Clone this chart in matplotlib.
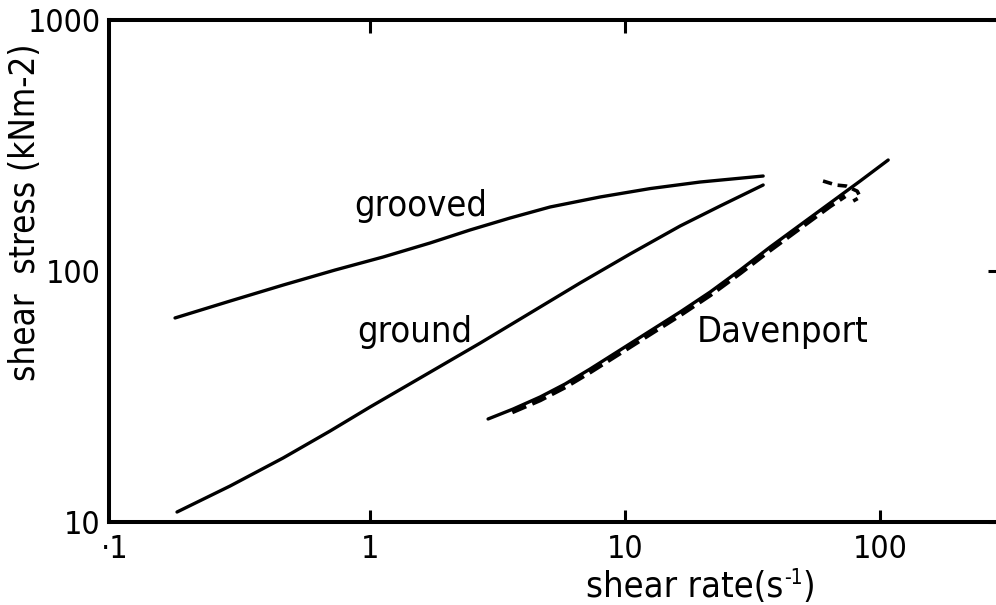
import matplotlib
matplotlib.use("Agg")
import matplotlib.pyplot as plt
from matplotlib import font_manager

# Shear stress vs shear rate for three surface finishes (log-log)
grooved_rate = [0.1719, 0.2825, 0.456, 0.729, 1.125, 1.719, 2.467, 3.540,
                5.08, 7.98, 12.53, 19.68, 34.77]
grooved_stress = [65.0, 75.9, 87.9, 100.9, 113.7, 129.3, 145.7, 162.6,
                  179.9, 197.2, 213.0, 226.2, 239.0]

ground_rate = [0.1750, 0.2825, 0.456, 0.697, 1.0, 1.571, 2.700, 4.242,
               6.66, 10.46, 16.43, 23.59, 34.77]
ground_stress = [10.96, 13.91, 17.99, 23.04, 28.72, 37.48, 51.6, 68.0,
                 89.6, 116.9, 151.1, 181.6, 220.1]

davenport_rate = [2.902, 3.638, 4.642, 5.818, 7.291, 9.559, 12.53, 16.43,
                  21.54, 28.25, 37.03, 48.56, 63.67, 83.49, 107.5]
davenport_stress = [25.73, 28.19, 31.48, 35.47, 40.70, 48.44, 57.68, 68.65,
                    82.45, 100.9, 124.6, 152.5, 186.6, 228.3, 276.8]

# measured (dashed) run alongside the Davenport curve
measured_rate = [3.606, 4.642, 5.818, 7.291, 9.559, 12.53, 16.43, 21.54,
                 28.25, 37.03, 48.56, 63.67, 72.90]
measured_stress = [27.43, 30.63, 34.50, 39.59, 47.12, 56.11, 66.78, 80.23,
                   98.2, 121.2, 148.4, 181.6, 199.0]
hook_rate = [59.7, 67.2, 73.6, 81.3, 83.5, 78.4]
hook_stress = [228.3, 220, 218, 208, 197, 190]

x_ticks = [0.1, 1, 10, 100]
x_tick_labels = ["·1", "1", "10", "100"]
y_ticks = [10, 100, 1000]
y_tick_labels = ["10", "100", "1000"]

available = {f.name for f in font_manager.fontManager.ttflist}
if "Liberation Sans Narrow" in available:
    FONT = dict(family="Liberation Sans Narrow")
else:
    FONT = dict(family="DejaVu Sans", stretch="condensed")

W, H = 996, 605
fig = plt.figure(figsize=(W / 100, H / 100), dpi=100)
ax = fig.add_axes([109 / W, 1 - 522 / H, 891 / W, 502 / H])
ax.set_xscale("log")
ax.set_yscale("log")
ax.set_xlim(0.0947, 295)
ax.set_ylim(10, 1000)

lw = 2.4
ax.plot(grooved_rate, grooved_stress, color="black", lw=lw, solid_capstyle="round")
ax.plot(ground_rate, ground_stress, color="black", lw=lw, solid_capstyle="round")
ax.plot(davenport_rate, davenport_stress, color="black", lw=lw, solid_capstyle="round")
ax.plot(measured_rate, measured_stress, color="black", lw=3.4, ls=(0, (3.2, 1.4)))
ax.plot(hook_rate, hook_stress, color="black", lw=2.6, ls=(0, (2.6, 1.6)))

for s in ax.spines.values():
    s.set_linewidth(2.9)

ax.set_xticks(x_ticks)
ax.set_xticklabels(x_tick_labels)
ax.xaxis.set_minor_locator(matplotlib.ticker.NullLocator())
ax.yaxis.set_minor_locator(matplotlib.ticker.NullLocator())
ax.set_yticks(y_ticks)
ax.set_yticklabels(y_tick_labels)
ax.tick_params(axis="x", direction="in", length=9, width=2.2, pad=9,
               labelsize=23, top=False)
ax.tick_params(axis="y", direction="in", length=9, width=2.2, pad=6,
               labelsize=23, left=False, right=True)
ax.xaxis.get_major_ticks()[0].tick1line.set_visible(False)
for t in ax.get_xticklabels() + ax.get_yticklabels():
    t.set(**FONT)

# inward ticks along the top edge at 1 and 10
top = ax.secondary_xaxis("top")
top.set_xticks([1, 10])
top.xaxis.set_minor_locator(matplotlib.ticker.NullLocator())
top.tick_params(direction="in", length=9, width=2.2, labeltop=False)
top.spines["top"].set_visible(False)

ax.text(1.585, 181, "grooved", fontsize=26, ha="center", va="center", **FONT)
ax.text(1.50, 57, "ground", fontsize=26, ha="center", va="center", **FONT)
ax.text(41.3, 57, "Davenport", fontsize=26, ha="center", va="center", **FONT)

# x-axis title assembled piecewise so the "-1" sits as a small superscript
renderer = fig.canvas.get_renderer()
base_y = 1 - 597 / H
parts = [("shear rate(s", 26, 0), ("-1", 15, 13), (")", 26, 0)]
texts = []
for s, size, rise in parts:
    t = fig.text(0, base_y + rise / H, s, fontsize=size, ha="left",
                 va="baseline", **FONT)
    texts.append(t)
widths = [t.get_window_extent(renderer).width for t in texts]
x = 815 - sum(widths)
for t, w in zip(texts, widths):
    t.set_x(x / W)
    x += w

fig.text(25 / W, 1 - 212 / H, "shear  stress (kNm-2)", fontsize=25,
         rotation=90, ha="center", va="center", **FONT)

fig.savefig("out.png", dpi=100)
